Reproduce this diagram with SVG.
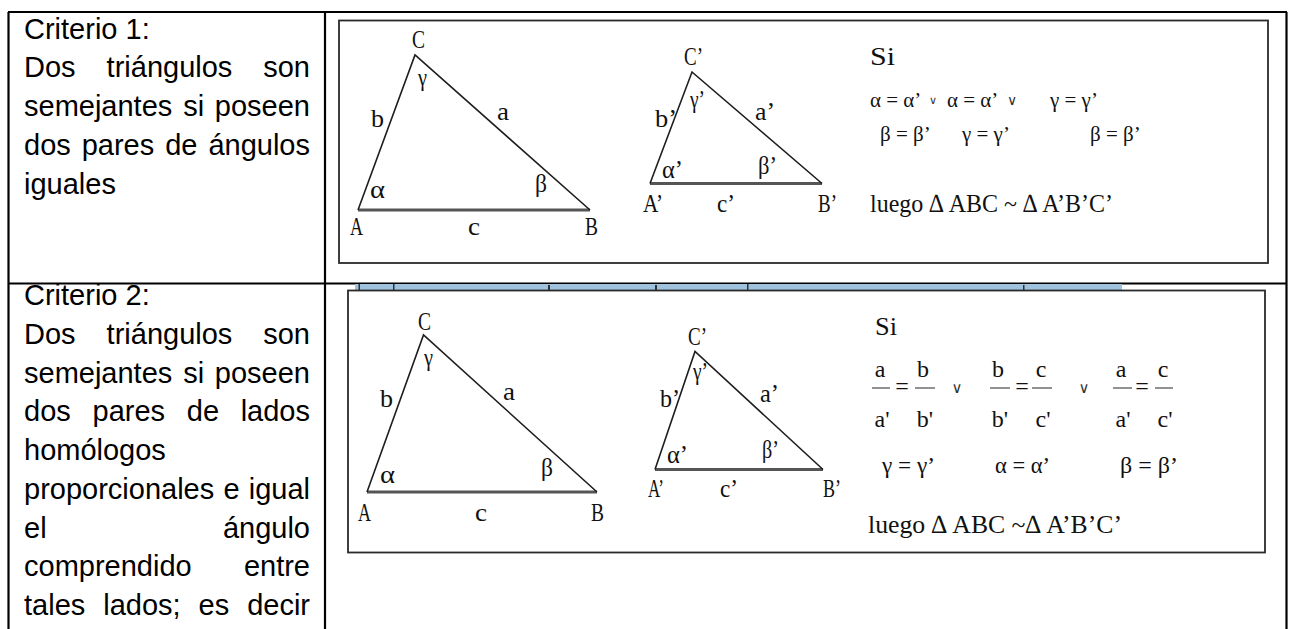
<svg xmlns="http://www.w3.org/2000/svg" width="1289" height="629" viewBox="0 0 1289 629">
<style>
.t{font-family:"Liberation Sans",Arial,sans-serif;font-size:29px;fill:#000}
.m{font-family:"Liberation Serif","Times New Roman",serif;font-size:26px;fill:#111}
.s{font-family:"Liberation Serif","Times New Roman",serif;font-size:24px;fill:#111}
.r{font-family:"Liberation Serif","Times New Roman",serif;font-size:21px;fill:#111}
.v{font-family:"DejaVu Sans","Liberation Sans",sans-serif;font-weight:normal;fill:#333}
.grid{stroke:#000;stroke-width:2.2;fill:none}
.box{stroke:#2a2a2a;stroke-width:1.8;fill:#fff}
.side{stroke:#1e1e1e;stroke-width:1.6;fill:none}
.base{stroke:#555;stroke-width:3;fill:none}
.bar{stroke:#777;stroke-width:1.6}
</style>
<rect width="1289" height="629" fill="#fff"/>
<g id="table">
<line class="grid" x1="8" y1="12" x2="1287" y2="12"/>
<line class="grid" x1="8.5" y1="12" x2="8.5" y2="629"/>
<line class="grid" x1="325" y1="12" x2="325" y2="629"/>
<line class="grid" x1="1286.5" y1="12" x2="1286.5" y2="629"/>
<line class="grid" x1="8" y1="283.5" x2="1287" y2="283.5"/>
</g>
<g id="criterio1-text">
<text class="t" x="24" y="38.5">Criterio 1:</text>
<text class="t" y="77.25"><tspan x="24">Dos</tspan><tspan x="106.6">triángulos</tspan><tspan x="310" text-anchor="end">son</tspan></text>
<text class="t" y="116"><tspan x="24">semejantes</tspan><tspan x="183.2">si</tspan><tspan x="310" text-anchor="end">poseen</tspan></text>
<text class="t" y="154.75"><tspan x="24">dos</tspan><tspan x="81.7">pares</tspan><tspan x="165.2">de</tspan><tspan x="310" text-anchor="end">ángulos</tspan></text>
<text class="t" x="24" y="193.5">iguales</text>
</g>
<g id="criterio2-text">
<text class="t" x="24" y="305">Criterio 2:</text>
<text class="t" y="343.75"><tspan x="24">Dos</tspan><tspan x="106.6">triángulos</tspan><tspan x="310" text-anchor="end">son</tspan></text>
<text class="t" y="382.5"><tspan x="24">semejantes</tspan><tspan x="183.2">si</tspan><tspan x="310" text-anchor="end">poseen</tspan></text>
<text class="t" y="421.25"><tspan x="24">dos</tspan><tspan x="92.5">pares</tspan><tspan x="186.8">de</tspan><tspan x="310" text-anchor="end">lados</tspan></text>
<text class="t" x="24" y="460">homólogos</text>
<text class="t" y="498.75"><tspan x="24">proporcionales</tspan><tspan x="223.5">e</tspan><tspan x="310" text-anchor="end">igual</tspan></text>
<text class="t" y="537.5"><tspan x="24">el</tspan><tspan x="310" text-anchor="end">ángulo</tspan></text>
<text class="t" y="576.25"><tspan x="24">comprendido</tspan><tspan x="310" text-anchor="end">entre</tspan></text>
<text class="t" y="615"><tspan x="24">tales</tspan><tspan x="103.2">lados;</tspan><tspan x="198.6">es</tspan><tspan x="310" text-anchor="end">decir</tspan></text>
</g>
<g id="figure1">
<rect class="box" x="339" y="20.5" width="929" height="242.5"/>
<line class="base" x1="358" y1="210" x2="590" y2="210"/>
<polyline class="side" points="358,210 415,55 590,210"/>
<line class="base" x1="650" y1="183.5" x2="822" y2="183.5"/>
<polyline class="side" points="650,183.5 692,72 822,183.5"/>
<text class="m" x="412" y="48" textLength="13" lengthAdjust="spacingAndGlyphs">C</text>
<text class="m" x="418" y="86" textLength="9" lengthAdjust="spacingAndGlyphs">γ</text>
<text class="m" x="371" y="127" textLength="13" lengthAdjust="spacingAndGlyphs">b</text>
<text class="m" x="497" y="120" textLength="12" lengthAdjust="spacingAndGlyphs">a</text>
<text class="m" x="370" y="198" textLength="15" lengthAdjust="spacingAndGlyphs">α</text>
<text class="m" x="535" y="192" textLength="12" lengthAdjust="spacingAndGlyphs">β</text>
<text class="m" x="350" y="235" textLength="13" lengthAdjust="spacingAndGlyphs">A</text>
<text class="m" x="468" y="235" textLength="12" lengthAdjust="spacingAndGlyphs">c</text>
<text class="m" x="585" y="235" textLength="13" lengthAdjust="spacingAndGlyphs">B</text>
<text class="m" x="684" y="65" textLength="19" lengthAdjust="spacingAndGlyphs">C’</text>
<text class="m" x="690" y="108" textLength="15" lengthAdjust="spacingAndGlyphs">γ’</text>
<text class="m" x="655" y="127" textLength="22" lengthAdjust="spacingAndGlyphs">b’</text>
<text class="m" x="755" y="120" textLength="20" lengthAdjust="spacingAndGlyphs">a’</text>
<text class="m" x="662" y="178" textLength="21" lengthAdjust="spacingAndGlyphs">α’</text>
<text class="m" x="758" y="174" textLength="19" lengthAdjust="spacingAndGlyphs">β’</text>
<text class="m" x="643" y="212" textLength="20" lengthAdjust="spacingAndGlyphs">A’</text>
<text class="m" x="717" y="212" textLength="18" lengthAdjust="spacingAndGlyphs">c’</text>
<text class="m" x="818" y="212" textLength="19" lengthAdjust="spacingAndGlyphs">B’</text>
<text class="m" x="870" y="65" textLength="25" lengthAdjust="spacingAndGlyphs">Si</text>
<text class="r" x="870" y="107">α = α’</text>
<text class="v" x="929" y="104" font-size="11">∨</text>
<text class="r" x="947" y="107">α = α’</text>
<text class="v" x="1007" y="105" font-size="14">∨</text>
<text class="r" x="1050" y="107">γ = γ’</text>
<text class="r" x="880" y="141">β = β’</text>
<text class="r" x="962" y="141">γ = γ’</text>
<text class="r" x="1090" y="141">β = β’</text>
<text class="m" x="870" y="212" textLength="243" lengthAdjust="spacingAndGlyphs">luego ∆ ABC ~ ∆ A’B’C’</text>
</g>
<g id="figure2">
<rect x="355" y="284" width="767" height="6" fill="#9fc3df"/>
<g fill="#333"><rect x="358.5" y="284" width="1.5" height="6"/><rect x="393" y="284" width="1.5" height="6"/><rect x="548" y="285" width="2" height="5"/><rect x="655" y="285" width="2" height="5"/><rect x="747" y="284" width="1.5" height="6"/><rect x="1023" y="285" width="1.5" height="5"/></g>
<rect class="box" x="348" y="290.5" width="917" height="262"/>
<line class="base" x1="367" y1="492" x2="597" y2="492"/>
<polyline class="side" points="367,492 423.5,335 597,492"/>
<line class="base" x1="655" y1="469.5" x2="823" y2="469.5"/>
<polyline class="side" points="655,469.5 695,351.5 823,469.5"/>
<text class="m" x="418" y="330" textLength="13" lengthAdjust="spacingAndGlyphs">C</text>
<text class="m" x="424" y="366" textLength="9" lengthAdjust="spacingAndGlyphs">γ</text>
<text class="m" x="380" y="407" textLength="13" lengthAdjust="spacingAndGlyphs">b</text>
<text class="m" x="503" y="400" textLength="12" lengthAdjust="spacingAndGlyphs">a</text>
<text class="m" x="380" y="483" textLength="15" lengthAdjust="spacingAndGlyphs">α</text>
<text class="m" x="541" y="476" textLength="12" lengthAdjust="spacingAndGlyphs">β</text>
<text class="m" x="358" y="521" textLength="13" lengthAdjust="spacingAndGlyphs">A</text>
<text class="m" x="475" y="521" textLength="12" lengthAdjust="spacingAndGlyphs">c</text>
<text class="m" x="591" y="521" textLength="13" lengthAdjust="spacingAndGlyphs">B</text>
<text class="m" x="688" y="345" textLength="19" lengthAdjust="spacingAndGlyphs">C’</text>
<text class="m" x="693" y="380" textLength="15" lengthAdjust="spacingAndGlyphs">γ’</text>
<text class="m" x="660" y="407" textLength="20" lengthAdjust="spacingAndGlyphs">b’</text>
<text class="m" x="760" y="402" textLength="19" lengthAdjust="spacingAndGlyphs">a’</text>
<text class="m" x="667" y="463" textLength="21" lengthAdjust="spacingAndGlyphs">α’</text>
<text class="m" x="762" y="458" textLength="17" lengthAdjust="spacingAndGlyphs">β’</text>
<text class="m" x="648" y="497" textLength="16" lengthAdjust="spacingAndGlyphs">A’</text>
<text class="m" x="720" y="497" textLength="18" lengthAdjust="spacingAndGlyphs">c’</text>
<text class="m" x="823" y="497" textLength="18" lengthAdjust="spacingAndGlyphs">B’</text>
<text class="m" x="875" y="335" textLength="22" lengthAdjust="spacingAndGlyphs">Si</text>
<g class="s" text-anchor="middle">
<text x="880" y="377">a</text><text x="923" y="377">b</text>
<text x="998" y="377">b</text><text x="1041" y="377">c</text>
<text x="1121" y="377">a</text><text x="1163" y="377">c</text>
<text x="882" y="427">a'</text><text x="925" y="427">b'</text>
<text x="1000" y="427">b'</text><text x="1043" y="427">c'</text>
<text x="1123" y="427">a'</text><text x="1165" y="427">c'</text>
<text x="902" y="394">=</text><text x="1022" y="394">=</text><text x="1142" y="394">=</text>
</g>
<text class="v" x="957" y="393" font-size="15" text-anchor="middle">∨</text>
<text class="v" x="1084" y="393" font-size="15" text-anchor="middle">∨</text>
<g class="bar">
<line x1="872" y1="388" x2="890" y2="388"/><line x1="915" y1="388" x2="935" y2="388"/>
<line x1="990" y1="388" x2="1010" y2="388"/><line x1="1032" y1="388" x2="1052" y2="388"/>
<line x1="1113" y1="388" x2="1132" y2="388"/><line x1="1155" y1="388" x2="1173" y2="388"/>
</g>
<text class="s" x="882" y="473" textLength="53" lengthAdjust="spacingAndGlyphs">γ = γ’</text>
<text class="s" x="995" y="473" textLength="55" lengthAdjust="spacingAndGlyphs">α = α’</text>
<text class="s" x="1120" y="473" textLength="58" lengthAdjust="spacingAndGlyphs">β = β’</text>
<text class="m" x="868" y="533" textLength="254" lengthAdjust="spacingAndGlyphs">luego ∆ ABC ~∆  A’B’C’</text>
</g>
</svg>
